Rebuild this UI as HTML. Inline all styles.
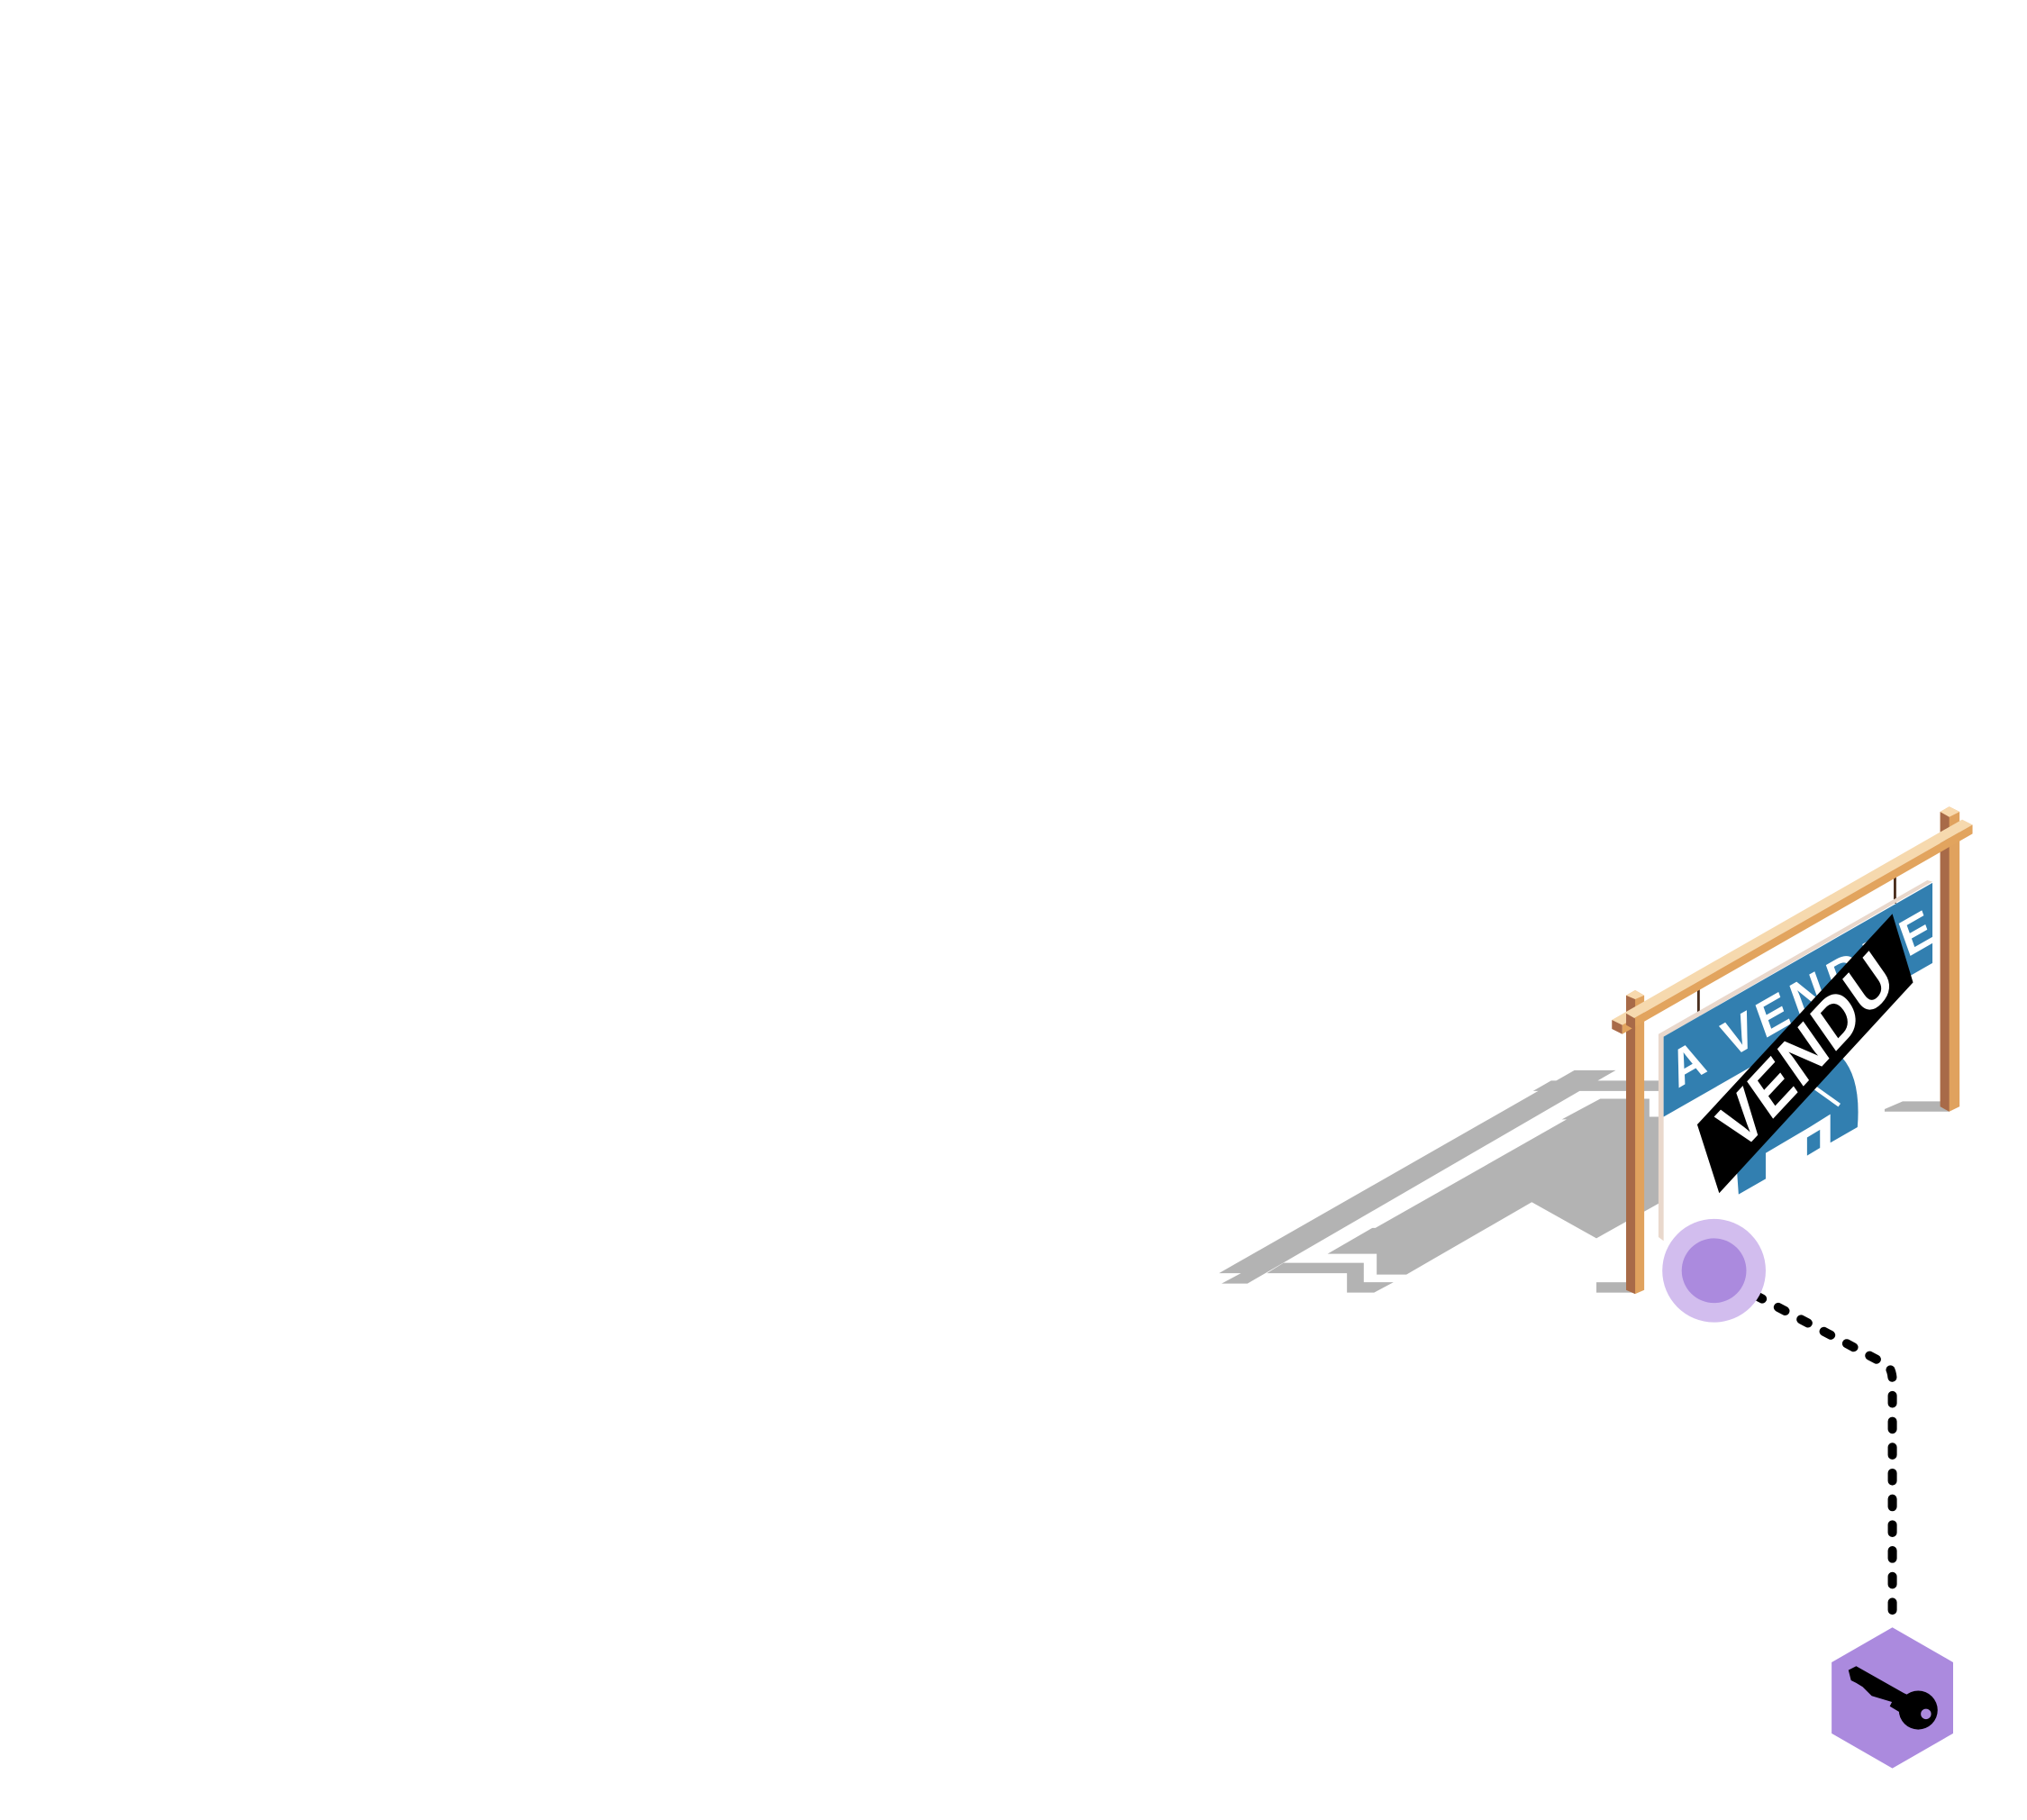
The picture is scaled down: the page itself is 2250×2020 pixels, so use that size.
<!DOCTYPE html>
<html><head><meta charset="utf-8"><style>html,body{margin:0;padding:0;background:#fff}svg{display:block}</style></head>
<body>
<svg width="2250" height="2020" viewBox="0 0 1568 1408" xmlns="http://www.w3.org/2000/svg">
<rect width="1568" height="1408" fill="#fff"/>
<g fill="#b3b3b3">
<polygon points="943,985 957,977 1218,828 1250,828 1236,836 1285,836 1285,844 1222,844 965,993 945,993 960,985"/>
<polygon points="1186,844 1200,836 1222,836 1208,844"/>
<polygon points="1027,970 1186,878 1212,864 1238,850 1285,850 1285,930 1235,958 1185,930 1088,986 1065,986 1065,970"/>
<polygon points="993,977 1055,977 1055,992 1078,992 1063,1000 1042,1000 1042,985 980,985"/>
<rect x="1235" y="992" width="28" height="8"/>
<polygon points="1458,858 1472,852 1508,852 1508,860 1458,860"/>
</g>
<polygon points="1040,950 1186,866 1212,866 1064,950" fill="#fff"/>
<polygon points="1276,850 1285,850 1285,864 1276,864" fill="#fff"/>
<line x1="1314" y1="760" x2="1314" y2="786" stroke="#4a2e1e" stroke-width="2"/>
<line x1="1466" y1="677" x2="1466" y2="699" stroke="#4a2e1e" stroke-width="2"/>
<polygon points="1283,800 1491,681 1495,682 1287,802 1287,960 1283,957" fill="#e9d8cc"/>
<polygon points="1287,802 1495,683 1495,745 1287,864" fill="#327fb0"/>
<path d="M1345,924 L1343,895 Q1360,860 1395,836 L1425,818 Q1440,835 1437,872 L1416,884 L1416,862 L1400,872 L1366,892 L1366,912 Z" fill="#327fb0"/>
<polygon points="1398,880 1408,874 1408,888 1398,894" fill="#327fb0"/>
<line x1="1402" y1="840" x2="1423" y2="855" stroke="#fff" stroke-width="3"/>
<text x="0" y="0" transform="translate(1298,842) rotate(-29.7) skewX(-10)" font-family="Liberation Sans, sans-serif" font-weight="bold" font-size="38" fill="#fff" letter-spacing="5">A VENDRE</text>
<polygon points="1313,870 1464,707 1480,760 1330,923" fill="#000"/>
<text x="0" y="0" transform="translate(1346,893) rotate(-47) skewX(-12)" font-family="Liberation Sans, sans-serif" font-weight="bold" font-size="50" fill="#fff" letter-spacing="1">VENDU</text>
<polygon points="1258,770 1265,766 1272,770 1272,998 1265,1001 1258,998" fill="#e0a25e"/>
<polygon points="1258,770 1265,773 1265,1001 1258,998" fill="#a86a48"/>
<polygon points="1258,770 1265,766 1272,770 1265,773" fill="#f8d9ad"/>
<polygon points="1501,628 1508,624 1516,628 1516,856 1508,860 1501,856" fill="#e0a25e"/>
<polygon points="1501,628 1508,632 1508,860 1501,856" fill="#a86a48"/>
<polygon points="1501,628 1508,624 1516,628 1508,632" fill="#f8d9ad"/>
<polygon points="1247,789 1518,634 1526,638 1255,793" fill="#f6d9ae"/>
<polygon points="1255,793 1526,638 1526,645 1255,800" fill="#e2a45e"/>
<polygon points="1247,789 1255,793 1255,800 1247,796" fill="#a86a48"/>
<polygon points="1258,784 1265,788 1265,797 1258,793" fill="#a86a48"/>
<path d="M1358,1002 L1460,1056 Q1464,1060 1464,1068 L1464,1250" fill="none" stroke="#000" stroke-width="7" stroke-linecap="round" stroke-dasharray="6,14"/>
<circle cx="1326" cy="983" r="40" fill="#d2bdee"/>
<circle cx="1326" cy="983" r="25" fill="#ab8ade"/>
<polygon points="1464,1259 1511,1286 1511,1341 1464,1368 1417,1341 1417,1286" fill="#ab8ade"/>
<g fill="#000">
<path d="M1430,1292 L1436,1289 L1475,1311 L1468,1318 L1448,1312 L1441,1305 L1436,1302 L1432,1300 Z"/>
<circle cx="1484" cy="1323" r="15"/>
<polygon points="1468,1308 1478,1312 1472,1326 1462,1320"/>
</g>
<circle cx="1490" cy="1326" r="4" fill="#ab8ade"/>
</svg>
</body></html>
